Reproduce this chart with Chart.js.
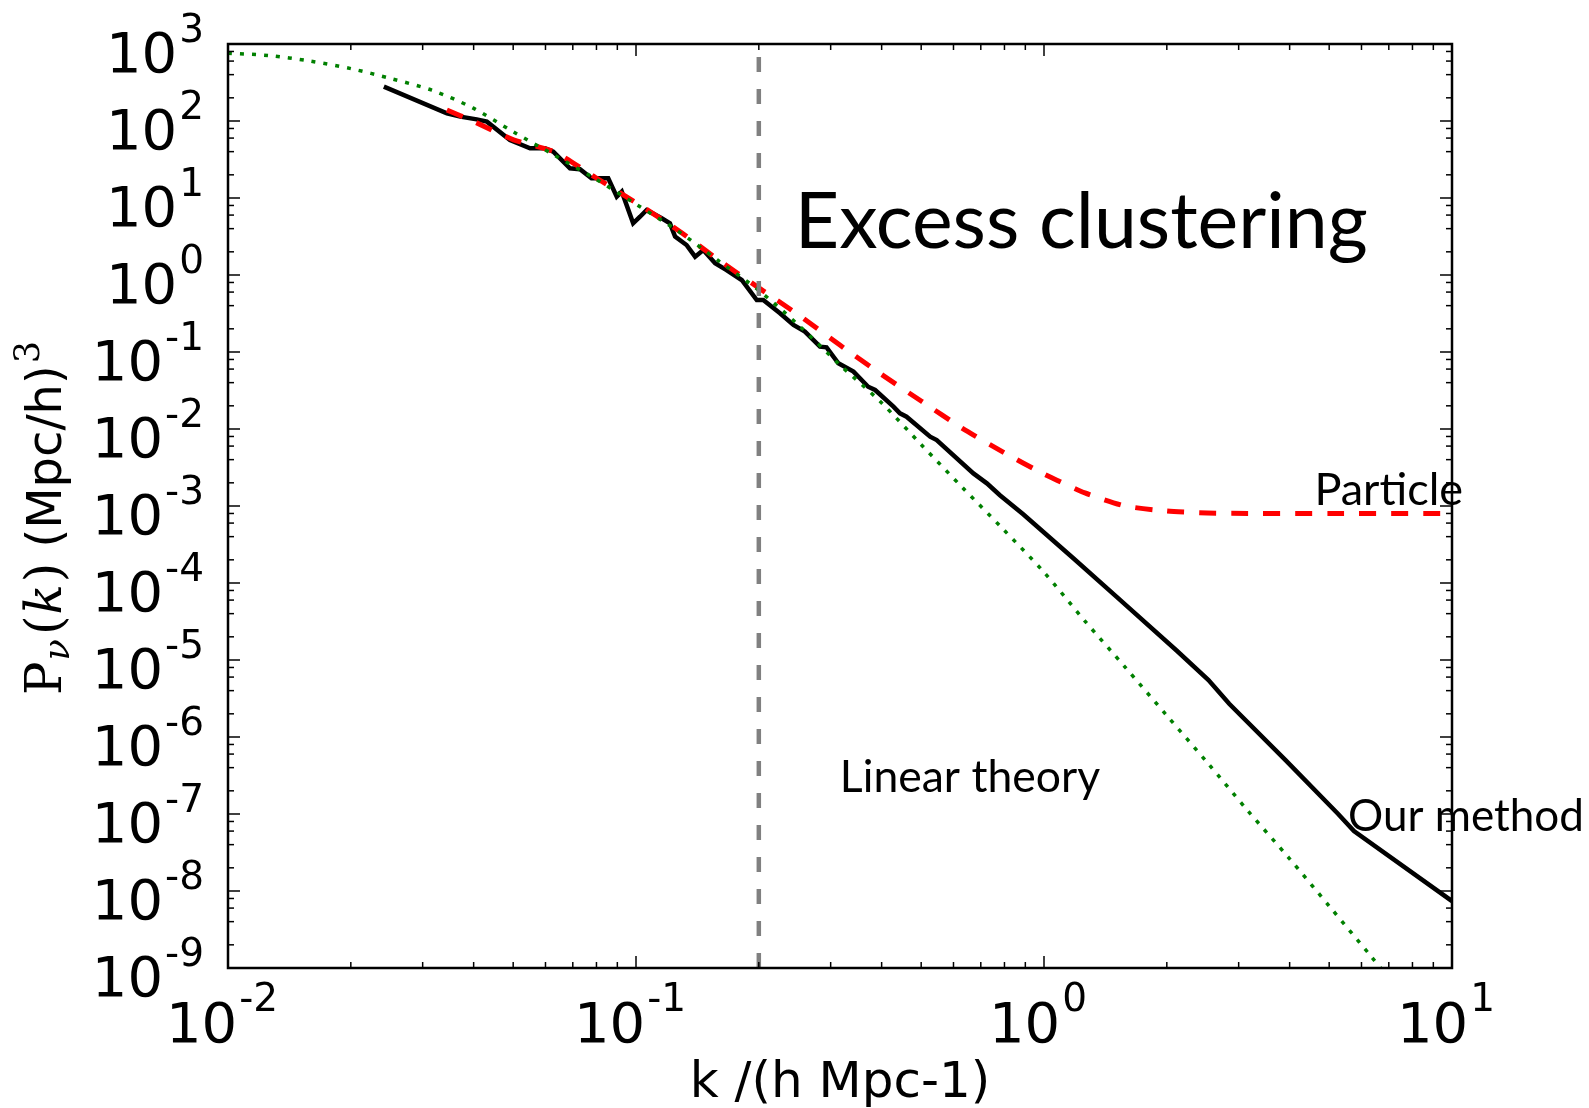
<!DOCTYPE html>
<html>
<head>
<meta charset="utf-8">
<title>Neutrino power spectrum</title>
<script src="https://cdn.jsdelivr.net/npm/chart.js@4.4.1/dist/chart.umd.min.js"></script>
<style>
    html, body { margin: 0; padding: 0; background: #fff; }
    canvas { display: block; }
</style>
</head>
<body>
<canvas id="grafikSpektrum" width="1589" height="1108"></canvas>
<script>
// k in h/Mpc, P in (Mpc/h)^3
const kLinear = [0.01, 0.0126, 0.0158, 0.02, 0.0251, 0.0316, 0.0398, 0.0501, 0.0631, 0.0794,
    0.1, 0.126, 0.158, 0.2, 0.251, 0.316, 0.398, 0.501, 0.631, 0.794,
    1.0, 1.26, 1.58, 2.0, 2.51, 3.16, 3.98, 5.01, 6.31, 7.08];
const pLinear = [760, 708, 603, 479, 355, 251, 148, 72, 36, 17.8,
    8.3, 3.8, 1.58, 0.63, 0.22, 0.068, 0.0224, 6.2e-3, 1.74e-3, 5.0e-4,
    1.38e-4, 3.2e-5, 8.1e-6, 1.9e-6, 4.7e-7, 1.1e-7, 2.7e-8, 6.3e-9, 1.45e-9, 6.9e-10];

const kParticle = [0.0344, 0.0398, 0.0501, 0.0631, 0.0794, 0.1, 0.126, 0.158, 0.2, 0.251,
    0.316, 0.398, 0.501, 0.631, 0.794, 1.0, 1.26, 1.58, 2.0, 2.51, 3.16, 5.0, 10];
const pParticle = [139, 100, 57, 39.8, 18.6, 8.7, 3.9, 1.62, 0.68, 0.30,
    0.123, 0.052, 0.0229, 0.0102, 5.0e-3, 2.6e-3, 1.48e-3, 1.0e-3, 8.6e-4, 8.1e-4, 8.0e-4, 8.0e-4, 8.0e-4];

const kOurs = [0.0241, 0.0344, 0.0371, 0.0407, 0.0431, 0.0491, 0.0550, 0.0598, 0.0627, 0.0689,
    0.0729, 0.0778, 0.0855, 0.0897, 0.0923, 0.0984, 0.1023, 0.1062, 0.1156, 0.1211,
    0.1247, 0.1330, 0.1396, 0.1462, 0.1563, 0.1667, 0.1816, 0.1977, 0.2051, 0.2254,
    0.2432, 0.2594, 0.2825, 0.2931, 0.3133, 0.3412, 0.3707, 0.3855, 0.4276, 0.4436,
    0.4603, 0.5260, 0.5458, 0.6714, 0.7244, 0.7798, 0.8892, 1.180, 1.507, 2.113,
    2.53, 2.844, 3.908, 5.26, 5.75, 10];
const pOurs = [279, 126, 114, 105, 98, 56.6, 44.2, 44.2, 39.9, 24.3,
    23.6, 18.0, 18.0, 10.4, 12.1, 4.69, 5.71, 6.98, 5.45, 4.69,
    3.15, 2.45, 1.73, 2.11, 1.42, 1.16, 0.861, 0.473, 0.473, 0.318,
    0.224, 0.1837, 0.1172, 0.1151, 0.0713, 0.0556, 0.0354, 0.0321, 0.0195, 0.01596,
    0.01445, 7.94e-3, 7.19e-3, 2.65e-3, 1.97e-3, 1.38e-3, 7.8e-4, 2.1e-4, 6.6e-5, 1.33e-5,
    5.5e-6, 2.7e-6, 5.0e-7, 1.0e-7, 6.0e-8, 7.4e-9];

const kCut = [0.2, 0.2];
const pCut = [1e-9, 1e3];

const xDecades = [-2, -1, 0, 1];
const yDecades = [-9, -8, -7, -6, -5, -4, -3, -2, -1, 0, 1, 2, 3];

const notes = [
    { text: 'Excess clustering', k: 0.245, p: 2.24, size: 77 },
    { text: 'Particle', k: 4.6, p: 1.03e-3, size: 45 },
    { text: 'Linear theory', k: 0.316, p: 1.93e-7, size: 44.5 },
    { text: 'Our method', k: 5.56, p: 6.0e-8, size: 44 }
];

const toPoints = (ks, ps) => ks.map((k, i) => ({ x: k, y: ps[i] }));

const axesPlugin = {
    id: 'axesPlugin',
    afterDraw(chart) {
        const { ctx, chartArea: a, scales: { x, y } } = chart;
        ctx.save();
        ctx.strokeStyle = '#000';
        ctx.lineWidth = 1.5;
        const seg = (x1, y1, x2, y2) => { ctx.beginPath(); ctx.moveTo(x1, y1); ctx.lineTo(x2, y2); ctx.stroke(); };

        // ticks on all four sides, pointing inwards
        xDecades.forEach(d => {
            for (let m = 1; m <= 9; m++) {
                const v = m * Math.pow(10, d);
                if (v > 10.0001) break;
                const px = x.getPixelForValue(v);
                const len = m === 1 ? 12 : 6;
                seg(px, a.bottom, px, a.bottom - len);
                seg(px, a.top, px, a.top + len);
            }
        });
        yDecades.forEach(d => {
            [1, 2, 4, 6, 8].forEach(m => {
                const v = m * Math.pow(10, d);
                if (v > 1000.001) return;
                const py = y.getPixelForValue(v);
                const len = m === 1 ? 12 : 6;
                seg(a.left, py, a.left + len, py);
                seg(a.right, py, a.right - len, py);
            });
        });

        ctx.lineWidth = 2.5;
        ctx.strokeRect(a.left, a.top, a.right - a.left, a.bottom - a.top);

        // tick labels 10^n
        ctx.fillStyle = '#000';
        ctx.textBaseline = 'alphabetic';
        const big = '56px "DejaVu Sans"', small = '39px "DejaVu Sans"';
        yDecades.forEach(d => {
            const py = y.getPixelForValue(Math.pow(10, d));
            const exp = String(d);
            ctx.font = small;
            const we = ctx.measureText(exp).width;
            ctx.textAlign = 'right';
            ctx.fillText(exp, 204, py - 2);
            ctx.font = big;
            ctx.fillText('10', 204 - we - 2, py + 28);
        });
        xDecades.forEach(d => {
            const px = x.getPixelForValue(Math.pow(10, d));
            const exp = String(d);
            ctx.font = big;
            const w10 = ctx.measureText('10').width;
            ctx.font = small;
            const we = ctx.measureText(exp).width;
            const left = px - 6 - (w10 + 2 + we) / 2;
            ctx.textAlign = 'left';
            ctx.font = big;
            ctx.fillText('10', left, 1042);
            ctx.font = small;
            ctx.fillText(exp, left + w10 + 2, 1011);
        });

        // axis titles
        ctx.font = '50px "DejaVu Sans"';
        ctx.textAlign = 'center';
        ctx.fillText('k /(h Mpc-1)', (a.left + a.right) / 2, 1097);

        const parts = [
            { t: 'P', f: '50px "DejaVu Serif"', dy: 0, gap: 1 },
            { t: 'ν', f: 'italic 35px "DejaVu Serif"', dy: 8, gap: 4 },
            { t: '(', f: '50px "DejaVu Serif"', dy: 0, gap: 1 },
            { t: 'k', f: 'italic 50px "DejaVu Serif"', dy: 0, gap: 2 },
            { t: ')', f: '50px "DejaVu Serif"', dy: 0, gap: 0 },
            { t: ' (Mpc/h)', f: '48px "DejaVu Sans"', dy: 0, gap: 2 },
            { t: '3', f: '35px "DejaVu Serif"', dy: -22, gap: 0 }
        ];
        let total = 0;
        parts.forEach(p => { ctx.font = p.f; p.w = ctx.measureText(p.t).width; total += p.w + p.gap; });
        ctx.save();
        ctx.translate(61, 518);
        ctx.rotate(-Math.PI / 2);
        ctx.textAlign = 'left';
        let cx = -total / 2;
        parts.forEach(p => { ctx.font = p.f; ctx.fillText(p.t, cx, p.dy); cx += p.w + p.gap; });
        ctx.restore();

        // annotations
        ctx.textAlign = 'left';
        notes.forEach(n => {
            ctx.font = n.size + 'px Lato';
            ctx.fillText(n.text, x.getPixelForValue(n.k), y.getPixelForValue(n.p));
        });
        ctx.restore();
    }
};

document.addEventListener('DOMContentLoaded', function () {
    const ctx = document.getElementById('grafikSpektrum').getContext('2d');
    new Chart(ctx, {
        type: 'line',
        data: {
            datasets: [{
                label: 'k = 0.2',
                data: toPoints(kCut, pCut),
                borderColor: '#808080',
                borderWidth: 4.5,
                borderDash: [15, 17],
                pointRadius: 0,
                clip: 0
            }, {
                label: 'Linear theory',
                data: toPoints(kLinear, pLinear),
                borderColor: '#008000',
                borderWidth: 3.5,
                borderDash: [4, 8],
                pointRadius: 0,
                tension: 0.3,
                clip: 0
            }, {
                label: 'Particle',
                data: toPoints(kParticle, pParticle),
                borderColor: '#ff0000',
                borderWidth: 5,
                borderDash: [17, 15],
                pointRadius: 0,
                tension: 0.2,
                clip: 0
            }, {
                label: 'Our method',
                data: toPoints(kOurs, pOurs),
                borderColor: '#000000',
                borderWidth: 4.5,
                pointRadius: 0,
                clip: 0
            }]
        },
        options: {
            responsive: false,
            animation: false,
            layout: { padding: { left: 228, top: 44, right: 137, bottom: 140 } },
            scales: {
                x: { type: 'logarithmic', min: 0.01, max: 10, display: false },
                y: { type: 'logarithmic', min: 1e-9, max: 1e3, display: false }
            },
            plugins: {
                legend: { display: false },
                tooltip: { enabled: false }
            }
        },
        plugins: [axesPlugin]
    });
});
</script>
</body>
</html>
